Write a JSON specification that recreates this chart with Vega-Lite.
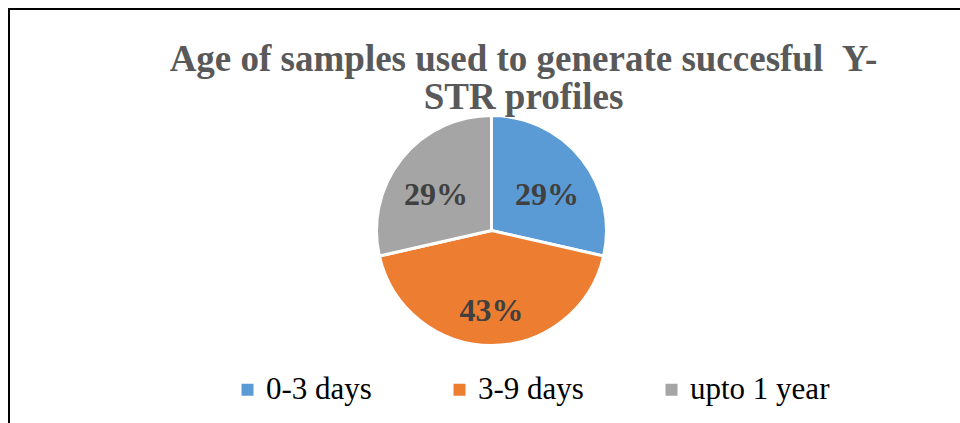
{
  "$schema": "https://vega.github.io/schema/vega-lite/v6.json",
  "width": 960,
  "height": 423,
  "autosize": {"type": "fit", "contains": "padding"},
  "padding": {"left": 9, "top": 9, "right": -14, "bottom": -29},
  "background": "white",
  "view": {"stroke": "black", "strokeWidth": 2, "fill": "white"},
  "config": {"view": {"stroke": "black", "strokeWidth": 2}},
  "title": {
    "text": ["Age of samples used to generate succesful \u00a0Y-", "STR profiles"],
    "font": "Liberation Serif",
    "fontSize": 37,
    "fontWeight": "bold",
    "color": "#595959",
    "lineHeight": 38,
    "anchor": "middle",
    "dx": 32,
    "offset": -108
  },
  "data": {
    "values": [
      {"category": "0-3 days", "share": 0.2857},
      {"category": "3-9 days", "share": 0.4286},
      {"category": "upto 1 year", "share": 0.2857}
    ]
  },
  "encoding": {
    "theta": {"field": "share", "type": "quantitative", "stack": true},
    "order": {"field": "category"}
  },
  "layer": [
    {
      "mark": {"type": "arc", "outerRadius": 115, "stroke": "white", "strokeWidth": 3},
      "encoding": {
        "color": {
          "field": "category",
          "type": "nominal",
          "scale": {
            "domain": ["0-3 days", "3-9 days", "upto 1 year"],
            "range": ["#5B9BD5", "#ED7D31", "#A5A5A5"]
          },
          "legend": {
            "orient": "none",
            "legendX": 223,
            "legendY": 365,
            "direction": "horizontal",
            "title": null,
            "symbolType": "square",
            "symbolSize": 144,
            "symbolStrokeWidth": 0,
            "labelFont": "Liberation Serif",
            "labelFontSize": 31,
            "labelColor": "black",
            "labelOffset": 3,
            "labelLimit": 300,
            "columnPadding": 72,
            "padding": 0
          }
        }
      }
    },
    {
      "mark": {
        "type": "text",
        "radius": 71,
        "dy": 9,
        "font": "Liberation Serif",
        "fontSize": 32,
        "fontWeight": "bold",
        "fill": "#404040"
      },
      "encoding": {
        "text": {"field": "share", "type": "quantitative", "format": ".0%"}
      }
    }
  ]
}
